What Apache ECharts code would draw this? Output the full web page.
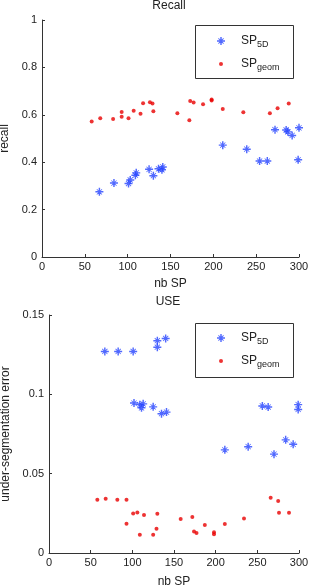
<!DOCTYPE html>
<html>
<head>
<meta charset="utf-8">
<script src="https://cdn.jsdelivr.net/npm/echarts@6/dist/echarts.min.js"></script>
<style>
  html, body { margin: 0; padding: 0; background: #fff; }
  #chart { width: 311px; height: 586px; }
</style>
</head>
<body>
<div id="chart"></div>
<script>
// Recall plot
const recall5dX = [67, 84, 101, 103, 109, 110, 125, 130, 136, 140, 141, 211, 239, 254, 263, 272, 285, 287, 292, 299, 300];
const recall5dY = [0.275, 0.312, 0.310, 0.325, 0.345, 0.355, 0.370, 0.343, 0.372, 0.368, 0.380, 0.472, 0.455, 0.405, 0.405, 0.537, 0.536, 0.528, 0.513, 0.410, 0.545];
const recallGeomX = [58, 68, 83, 93, 93, 101, 107, 115, 118, 126, 129, 130, 158, 172, 173, 177, 188, 198, 198, 211, 235, 266, 275, 288];
const recallGeomY = [0.572, 0.585, 0.582, 0.612, 0.592, 0.585, 0.617, 0.604, 0.649, 0.653, 0.648, 0.615, 0.607, 0.577, 0.658, 0.652, 0.644, 0.660, 0.665, 0.624, 0.611, 0.607, 0.628, 0.648];

// USE plot
const use5dX = [67, 83, 101, 130, 130, 140, 102, 109, 111, 113, 125, 135, 141, 211, 239, 256, 263, 270, 284, 293, 299, 299];
const use5dY = [0.127, 0.127, 0.127, 0.1297, 0.1338, 0.1352, 0.0945, 0.0935, 0.0915, 0.094, 0.0921, 0.0878, 0.0888, 0.065, 0.067, 0.0927, 0.092, 0.0623, 0.0713, 0.0685, 0.0935, 0.0905];
const useGeomX = [58, 68, 82, 93, 93, 101, 106, 109, 114, 125, 129, 130, 158, 172, 174, 177, 187, 198, 198, 211, 234, 266, 275, 276, 288];
const useGeomY = [0.0336, 0.0342, 0.0336, 0.0336, 0.0184, 0.0249, 0.0256, 0.0115, 0.024, 0.0115, 0.0153, 0.0248, 0.0214, 0.0227, 0.0136, 0.0126, 0.0176, 0.013, 0.0118, 0.0182, 0.0218, 0.0348, 0.0328, 0.0254, 0.0254];

const titles = ["Recall", "USE"];
const xName = "nb SP";
const yNames = ["recall", "under-segmentation error"];
const seriesNames = ["SP5D", "SPgeom"];

const BLUE = "#2543ff";
const RED = "#e80000";
const INK = "#222";
const FONT = "Liberation Sans";

// filled plus with thin diagonals, like matlab's '*' marker at small size
const starPath = "path://M4.1 0H5.9V4.1H10V5.9H5.9V10H4.1V5.9H0V4.1H4.1Z" +
  "M1.4 2.1L2.1 1.4L8.6 7.9L7.9 8.6Z" +
  "M7.9 1.4L8.6 2.1L2.1 8.6L1.4 7.9Z";

const zip = (xs, ys) => xs.map((x, i) => [x, ys[i]]);

function axisX(gridIndex, gap) {
  return {
    type: "value", gridIndex, min: 0, max: 300, interval: 50,
    name: xName, nameLocation: "middle", nameGap: gap,
    nameTextStyle: { color: INK, fontSize: 12, fontFamily: FONT },
    axisLine: { lineStyle: { color: "#333", width: 1 } },
    axisTick: { inside: true, length: 3, lineStyle: { color: "#333" } },
    axisLabel: { color: INK, fontSize: 11, fontFamily: FONT, margin: 4 },
    splitLine: { show: false }
  };
}

function axisY(gridIndex, max, interval, name, gap) {
  return {
    type: "value", gridIndex, min: 0, max, interval,
    name, nameLocation: "middle", nameGap: gap,
    nameTextStyle: { color: INK, fontSize: 12, fontFamily: FONT },
    axisLine: { show: true, lineStyle: { color: "#333", width: 1 } },
    axisTick: { show: true, inside: true, length: 3, lineStyle: { color: "#333" } },
    axisLabel: { color: INK, fontSize: 11, fontFamily: FONT, margin: 5 },
    splitLine: { show: false }
  };
}

const richText = {
  color: INK, fontFamily: FONT, fontSize: 12,
  rich: {
    a: { fontSize: 12, fontFamily: FONT, color: INK },
    b: { fontSize: 9, fontFamily: FONT, color: INK, padding: [8, 0, 0, 0] }
  }
};

// one legend component per entry so each icon keeps its own size
function legendItem(name, left, top, size) {
  return {
    left, top, itemWidth: 30, itemHeight: size, padding: 0,
    data: [name],
    formatter: n => n === "SP5D" ? "{a|SP}{b|5D}" : "{a|SP}{b|geom}",
    textStyle: richText
  };
}

function starSeries(name, data, idx) {
  return {
    name, type: "scatter", xAxisIndex: idx, yAxisIndex: idx, data,
    symbol: starPath, symbolSize: 8,
    itemStyle: { color: BLUE }
  };
}
function dotSeries(name, data, idx) {
  return {
    name, type: "scatter", xAxisIndex: idx, yAxisIndex: idx, data,
    symbol: "circle", symbolSize: 4,
    itemStyle: { color: RED }
  };
}

const titleStyle = { fontSize: 12, fontWeight: "normal", color: INK, fontFamily: FONT };

const chart = echarts.init(document.getElementById("chart"), null, { renderer: "canvas" });
chart.setOption({
  animation: false,
  backgroundColor: "#fff",
  title: [
    { text: titles[0], left: 169, top: 0, padding: 0, textAlign: "center", textStyle: titleStyle },
    { text: titles[1], left: 168, top: 296, padding: 0, textAlign: "center", textStyle: titleStyle }
  ],
  graphic: [
    { type: "rect", left: 195, top: 25, z: 0, shape: { width: 98, height: 53 },
      style: { fill: "#fff", stroke: "#333", lineWidth: 1 } },
    { type: "rect", left: 195, top: 323, z: 0, shape: { width: 98, height: 54 },
      style: { fill: "#fff", stroke: "#333", lineWidth: 1 } }
  ],
  legend: [
    legendItem(seriesNames[0], 217, 35, 8),
    legendItem(seriesNames[1], 219, 58, 4),
    legendItem(seriesNames[0], 217, 332, 8),
    legendItem(seriesNames[1], 219, 355, 4)
  ],
  grid: [
    { left: 42, right: 12, top: 20, bottom: 329, outerBoundsMode: "none", containLabel: false },
    { left: 49, right: 12, top: 315, bottom: 33, outerBoundsMode: "none", containLabel: false }
  ],
  xAxis: [axisX(0, 21), axisX(1, 23)],
  yAxis: [axisY(0, 1, 0.2, yNames[0], 24), axisY(1, 0.15, 0.05, yNames[1], 32)],
  series: [
    starSeries(seriesNames[0], zip(recall5dX, recall5dY), 0),
    dotSeries(seriesNames[1], zip(recallGeomX, recallGeomY), 0),
    starSeries(seriesNames[0], zip(use5dX, use5dY), 1),
    dotSeries(seriesNames[1], zip(useGeomX, useGeomY), 1)
  ]
});
</script>
</body>
</html>
